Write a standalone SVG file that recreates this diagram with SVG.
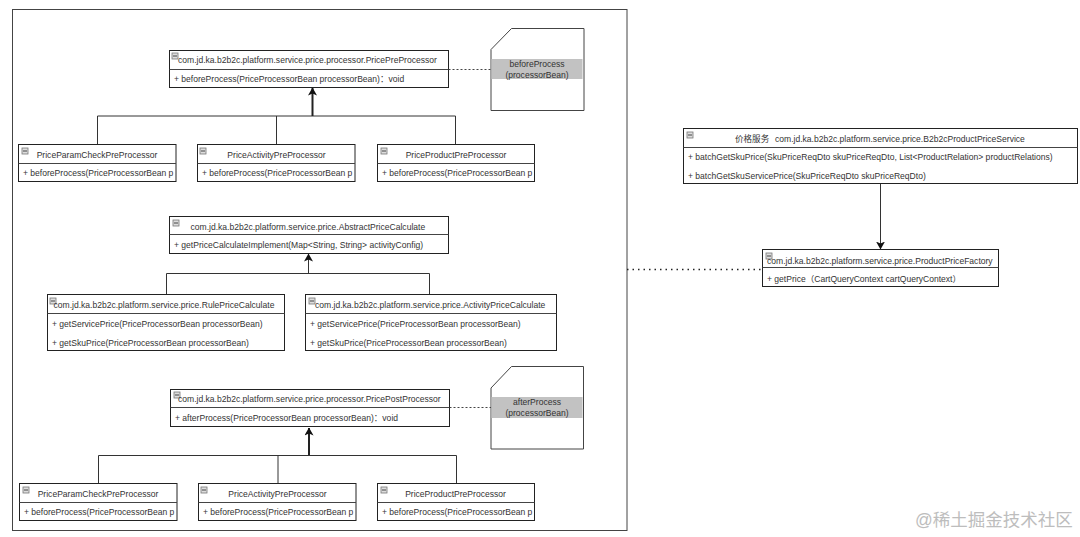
<svg xmlns="http://www.w3.org/2000/svg" width="1080" height="537" viewBox="0 0 1080 537">
<style>
text{font-family:"Liberation Sans","Noto Sans CJK SC",sans-serif;font-size:8.55px;fill:#333}
.b{fill:#fff;stroke:#222;stroke-width:1}
.d{stroke:#444;stroke-width:1;fill:none}
.c{stroke:#333;stroke-width:1;fill:none}
.t{stroke:#222;stroke-width:2;fill:none}
.n{fill:#fff;stroke:#444;stroke-width:1}
.g{fill:#c2c2c2}
.dash{stroke:#444;stroke-width:1;stroke-dasharray:2 2;fill:none}
.dot{stroke:#222;stroke-width:1.5;stroke-dasharray:1.5 4;fill:none}
.m{text-anchor:middle}
.w{font-size:17.500px;fill:#bdbdbd}
</style>
<defs>
<marker id="arr" viewBox="0 0 8 9" refX="7.500" refY="4.500" markerWidth="8" markerHeight="9" markerUnits="userSpaceOnUse" orient="auto"><path d="M0 0L8 4.500L0 9L2 4.500Z" fill="#111"/></marker>
<g id="ic"><rect x="0" y="0" width="6" height="6" fill="#ddd" stroke="#777" stroke-width=".8"/><path d="M1 3H5" stroke="#444" stroke-width="1"/></g>
</defs>
<rect width="1080" height="537" fill="#fff"/>
<rect id="frame" x="12.500" y="9.500" width="614.500" height="521" fill="#fff" stroke="#444" stroke-width="1"/>
<g id="connectors">
<path class="c" d="M97.500 144V116H455.500V144M276.500 116V144"/>
<path class="t" d="M312.500 116V88" marker-end="url(#arr)"/>
<path class="dash" d="M448.500 69.500H491"/>
<path class="c" d="M166.500 294V273.500H429.500V294"/>
<path class="c" d="M308.500 273.500V254" marker-end="url(#arr)"/>
<path class="c" d="M98.500 483V455.500H456.500V483"/>
<path class="c" d="M278 483V455.500"/>
<path class="t" d="M309 455V428" marker-end="url(#arr)"/>
<path class="dash" d="M449.500 407.500H491"/>
<path class="c" d="M880.500 183V249" marker-end="url(#arr)"/>
<path class="dot" d="M627 269.500H762"/>
</g>
<g id="pre-processor"><rect class="b" x="169.500" y="50.500" width="279" height="37"/><path class="d" d="M169.500 69.500H448.500"/><use href="#ic" x="172" y="53"/><text x="178" y="63">com.jd.ka.b2b2c.platform.service.price.processor.PricePreProcessor</text><text x="174" y="82">+ beforeProcess(PriceProcessorBean processorBean)：void</text></g>
<g id="before-note"><path class="n" d="M511.500 28.500H584V110.500H491V49.500Z"/><rect class="g" x="491.500" y="59" width="91" height="20"/><text class="m" x="537" y="67">beforeProcess</text><text class="m" x="537" y="78">(processorBean)</text></g>
<g id="pre-param"><rect class="b" x="18.500" y="144.500" width="157.500" height="37"/><path class="d" d="M18.500 163.500H176"/><use href="#ic" x="22" y="148"/><text class="m" x="97" y="157.500">PriceParamCheckPreProcessor</text><text x="23" y="176">+ beforeProcess(PriceProcessorBean p</text></g>
<g id="pre-activity"><rect class="b" x="197.500" y="144.500" width="157.500" height="37"/><path class="d" d="M197.500 163.500H355"/><use href="#ic" x="200" y="148"/><text class="m" x="276.500" y="157.500">PriceActivityPreProcessor</text><text x="202" y="176">+ beforeProcess(PriceProcessorBean p</text></g>
<g id="pre-product"><rect class="b" x="377.500" y="144.500" width="157" height="37"/><path class="d" d="M377.500 163.500H534.500"/><use href="#ic" x="381" y="148"/><text class="m" x="456" y="157.500">PriceProductPreProcessor</text><text x="382" y="176">+ beforeProcess(PriceProcessorBean p</text></g>
<g id="abstract-calc"><rect class="b" x="169.500" y="216.500" width="279" height="37"/><path class="d" d="M169.500 234.500H448.500"/><use href="#ic" x="173" y="220"/><text x="190.500" y="229.500">com.jd.ka.b2b2c.platform.service.price.AbstractPriceCalculate</text><text x="174" y="248">+ getPriceCalculateImplement(Map&lt;String, String&gt; activityConfig)</text></g>
<g id="rule-calc"><rect class="b" x="47.500" y="294.500" width="237" height="56"/><path class="d" d="M47.500 313.500H284.500"/><use href="#ic" x="50" y="298"/><text x="53.500" y="308">com.jd.ka.b2b2c.platform.service.price.RulePriceCalculate</text><text x="52" y="327">+ getServicePrice(PriceProcessorBean processorBean)</text><text x="52" y="345.500">+ getSkuPrice(PriceProcessorBean processorBean)</text></g>
<g id="activity-calc"><rect class="b" x="305.500" y="294.500" width="251" height="56"/><path class="d" d="M305.500 313.500H556.500"/><use href="#ic" x="309" y="298"/><text x="315" y="308">com.jd.ka.b2b2c.platform.service.price.ActivityPriceCalculate</text><text x="310" y="327">+ getServicePrice(PriceProcessorBean processorBean)</text><text x="310" y="345.500">+ getSkuPrice(PriceProcessorBean processorBean)</text></g>
<g id="post-processor"><rect class="b" x="170.500" y="389.500" width="279" height="37"/><path class="d" d="M170.500 407.500H449.500"/><use href="#ic" x="174" y="392"/><text x="178" y="402">com.jd.ka.b2b2c.platform.service.price.processor.PricePostProcessor</text><text x="175" y="421">+ afterProcess(PriceProcessorBean processorBean)：void</text></g>
<g id="after-note"><path class="n" d="M511.500 366.500H583.500V449H491V388Z"/><rect class="g" x="491.500" y="397" width="91" height="21"/><text class="m" x="537" y="405">afterProcess</text><text class="m" x="537" y="416">(processorBean)</text></g>
<g id="post-param"><rect class="b" x="19.500" y="483.500" width="157.500" height="37"/><path class="d" d="M19.500 502.500H177"/><use href="#ic" x="23" y="487"/><text class="m" x="98" y="496.500">PriceParamCheckPreProcessor</text><text x="24" y="515">+ beforeProcess(PriceProcessorBean p</text></g>
<g id="post-activity"><rect class="b" x="198.500" y="483.500" width="157.500" height="37"/><path class="d" d="M198.500 502.500H356"/><use href="#ic" x="201" y="487"/><text class="m" x="277.500" y="496.500">PriceActivityPreProcessor</text><text x="203" y="515">+ beforeProcess(PriceProcessorBean p</text></g>
<g id="post-product"><rect class="b" x="377.500" y="483.500" width="157" height="37"/><path class="d" d="M377.500 502.500H534.500"/><use href="#ic" x="381" y="487"/><text class="m" x="455.500" y="496.500">PriceProductPreProcessor</text><text x="382" y="515">+ beforeProcess(PriceProcessorBean p</text></g>
<g id="price-service"><rect class="b" x="683.500" y="128.500" width="394" height="55"/><path class="d" d="M683.500 147.500H1077.500"/><use href="#ic" x="687" y="132"/><text y="141.500"><tspan x="735">价格服务</tspan><tspan x="775">com.jd.ka.b2b2c.platform.service.price.B2b2cProductPriceService</tspan></text><text x="688" y="159.500">+ batchGetSkuPrice(SkuPriceReqDto skuPriceReqDto, List&lt;ProductRelation&gt; productRelations)</text><text x="688" y="178.500">+ batchGetSkuServicePrice(SkuPriceReqDto skuPriceReqDto)</text></g>
<g id="price-factory"><rect class="b" x="762.500" y="249.500" width="236" height="37"/><path class="d" d="M762.500 267.500H998.500"/><use href="#ic" x="766" y="253"/><text x="767" y="263.500">com.jd.ka.b2b2c.platform.service.price.ProductPriceFactory</text><text x="767" y="281.500">+ getPrice（CartQueryContext cartQueryContext）</text></g>
<text class="w" x="915" y="526">@稀土掘金技术社区</text>
</svg>
